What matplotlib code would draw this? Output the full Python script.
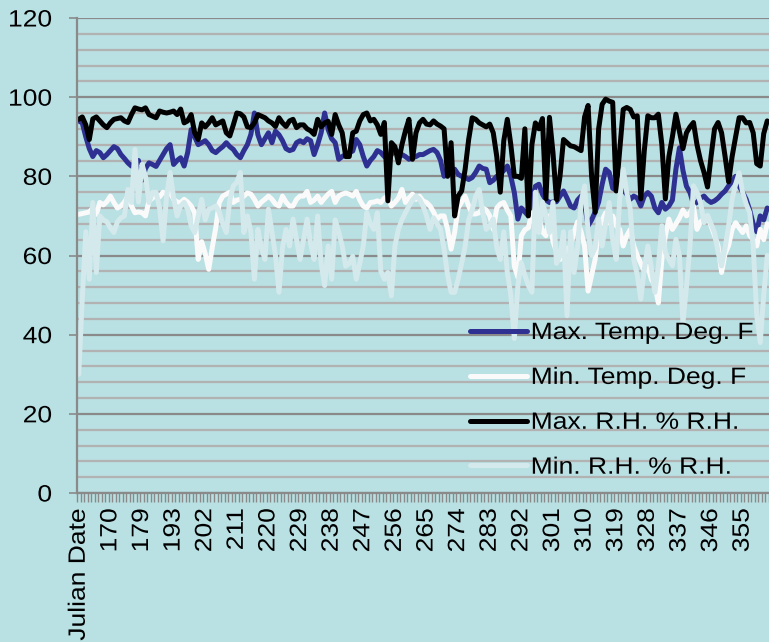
import numpy as np
import matplotlib
matplotlib.use("Agg")
import matplotlib.pyplot as plt
from matplotlib.ticker import MultipleLocator
from matplotlib.patheffects import AbstractPathEffect
from matplotlib.transforms import Affine2D

plt.rcParams['font.family'] = ['Liberation Sans', 'DejaVu Sans']

# x categories (first one is the header cell that ended up in the range)
julian_days = list(range(162, 180)) + [180, 181, 182, 183, 184, 185, 191, 192, 193] + list(range(194, 363))
categories = ['Julian Date'] + [str(d) for d in julian_days]

max_temp = [
    94, 93.5, 90, 87, 85, 86.5, 86, 84.7, 85.5, 86.5,
    87.5, 87, 85.5, 84.5, 83.4, 82.6, 83.5, 84, 79, 82,
    83.4, 83, 82.5, 84, 85.5, 87, 88, 83, 84, 84.7,
    82.6, 86, 91.8, 90, 88, 88.5, 89, 88, 86.5, 86,
    86.8, 87.5, 88.5, 87.5, 86.8, 85.5, 84.7, 86.5, 88, 90.6,
    96, 90.5, 88, 89.5, 91, 88.5, 91.4, 90.5, 89, 87,
    86.5, 86.8, 88.5, 89, 88.5, 89.5, 89, 85.5, 88, 91,
    96, 91.8, 89.5, 88.5, 84.3, 85, 85.5, 86, 86.4, 89.3,
    88, 85, 82.6, 84, 85, 86.5, 86, 85, 84.3, 85.5,
    86.8, 86, 85.5, 85, 84.3, 84.7, 85, 85.5, 85.5, 86,
    86.5, 86.8, 86, 84, 80, 81.8, 81.5, 81.8, 80.5, 80,
    79.7, 79.2, 79.7, 81, 82.6, 82, 81.8, 78.4, 79, 80,
    80.5, 81.5, 82.6, 80, 75.9, 69.2, 72, 71, 70, 74,
    77.5, 78, 75.5, 74, 73.4, 73.5, 73.6, 75, 76.3, 74.5,
    72.5, 72, 74, 75, 73, 67.5, 69, 71, 73.5, 78,
    81.8, 81, 77, 76.5, 78.4, 76.5, 75.5, 74.2, 75, 74.5,
    72.5, 75, 75.9, 75, 72, 70.8, 73.4, 71.7, 72.5, 74,
    81.8, 87.2, 81.5, 77.5, 75.9, 73, 73.4, 74.5, 75, 74,
    73.4, 73.8, 74.5, 75.5, 76.3, 77.6, 78.8, 80, 77.5, 76,
    74.2, 71.5, 68, 66, 70, 69, 72,
]

min_temp = [
    70.4, 70.6, 70.8, 71, 72, 70.4, 73.4, 72.8, 73.6, 75,
    73.4, 72, 72.5, 73.5, 75, 72.5, 70.8, 71, 70.8, 70,
    73.8, 74.5, 75.5, 74.8, 76, 75.5, 76, 74.2, 73.5, 73.4,
    74.2, 73.5, 72.5, 70.8, 59, 63.5, 60.5, 56.5, 62, 67,
    73.4, 75, 75.5, 76, 73.4, 74, 74.2, 75, 75.8, 75.5,
    74.2, 72.5, 73.5, 74.2, 75, 74.2, 73, 72.5, 75, 73.5,
    72.5, 72.5, 74.2, 75, 75, 76.2, 73.4, 74, 75, 73.4,
    74.5, 75.5, 76.2, 73.4, 75, 75.5, 75.8, 75.5, 75, 76.2,
    74, 72.5, 72, 73.4, 73.5, 73.8, 73.4, 74.5, 75, 72.5,
    73.4, 74.5, 76.7, 73.4, 74.5, 75.5, 74.2, 75, 73.8, 73.4,
    72.5, 71, 69.2, 70, 70, 66.6, 61.6, 65.8, 72, 73.5,
    75, 72.5, 70.5, 70.5, 70.8, 72, 71.5, 70, 66.6, 72,
    73, 73.4, 71.5, 70, 57.3, 54.5, 65, 66.5, 67, 70.8,
    67.8, 69.5, 66, 65, 70, 63.5, 61, 59, 59.8, 61.5,
    62.4, 65.8, 68.5, 66, 62.4, 51, 55, 59, 66.6, 69,
    70.8, 68.2, 70, 67.5, 66.6, 62.4, 65, 66.6, 62.4, 60,
    58, 56, 57.3, 54, 52.4, 48, 59, 65, 69.2, 66.6,
    68, 69.5, 71.5, 70, 70.8, 72.5, 66.6, 68.5, 69.2, 70,
    67.5, 65, 62.4, 55.7, 60.5, 62.5, 66.6, 68.3, 67, 65.8,
    67.5, 65, 64, 62.4, 66.6, 64, 68,
]

max_rh = [
    94.4, 95, 93, 89.3, 94.5, 95, 94, 93, 92.3, 93.5,
    94.4, 94.6, 94.8, 94, 93.6, 95.6, 97.3, 97, 96.8, 97.3,
    95.6, 95.2, 94.8, 96.5, 96.2, 96, 96.2, 96.5, 95.6, 97,
    93.5, 94, 95.6, 91, 89.3, 93.5, 92.5, 93.5, 94.8, 93,
    93.5, 94, 91, 90.2, 93, 96, 95.8, 95, 92.5, 92.3,
    93.5, 95.6, 95.2, 94.8, 94, 93.5, 92.6, 94.8, 93.5, 92.6,
    94, 94.4, 92.3, 93, 93, 92, 91.5, 90.6, 94.4, 92.5,
    93.5, 93.9, 90.6, 95.6, 93, 91, 85, 85, 91, 91.4,
    94, 95.6, 96, 94, 94.4, 93, 90.6, 93.6, 73.8, 88.5,
    87.5, 83.4, 88, 91.5, 94.4, 84.3, 91, 93.5, 94.4, 93.2,
    93, 94, 93.2, 92.7, 92, 80, 88.5, 70, 75, 76.3,
    81.8, 89.3, 94.8, 94.4, 93.5, 93, 92.5, 93.2, 91, 85,
    76, 89, 94.4, 88, 80, 80, 79.5, 92, 70, 88,
    93.5, 92, 94.6, 74.3, 94.9, 86, 74, 80, 89.3, 88.5,
    87.7, 87.5, 87, 86.5, 95, 97.9, 80, 70.9, 92, 98.2,
    99.5, 99, 98.7, 76.3, 86.5, 96.9, 97.4, 96.9, 95, 95.3,
    74.3, 86.5, 95.3, 94.8, 94.8, 95.7, 88, 74.3, 85, 90,
    95.7, 91.4, 87, 91, 92.5, 93.6, 88, 84, 81, 77.3,
    85, 92, 93.6, 91, 85, 78.6, 85, 90, 94.8, 94.8,
    93.5, 93.6, 91, 83.2, 82.6, 90.8, 94,
]

min_rh = [
    30, 49, 66, 54, 73.4, 55.7, 70, 69, 68.5, 67,
    65.8, 68.5, 69.5, 70, 76.7, 73.4, 86.8, 73.5, 83, 80,
    73.4, 76, 76, 72, 63.7, 75, 81, 74.5, 70, 72.5,
    73.4, 71.7, 67.5, 65.8, 70, 74.2, 69, 71.7, 72, 72.5,
    71, 68, 65.8, 74, 77.6, 78.5, 81, 65.8, 70, 66,
    54, 66.6, 62, 59, 71.7, 66, 60, 50.7, 62, 66.6,
    62.4, 69.2, 64, 59, 64, 69.2, 63, 59, 70, 58,
    52.4, 62.4, 54, 69, 66, 62.4, 57.3, 58, 59.8, 54,
    58, 62.4, 70.8, 68, 66.6, 70.8, 56, 54, 55.7, 49.8,
    62.4, 66.6, 69, 70.8, 72.5, 74, 75, 74.2, 72.5, 70,
    66.6, 69.5, 68, 66.6, 61.6, 55, 50.7, 50.7, 54, 58,
    62.4, 69, 71.5, 75, 76.7, 70.8, 66.6, 67.5, 69.2, 62,
    59, 66, 55.7, 50, 39, 52.4, 58.2, 55, 52.4, 50.7,
    76, 65.8, 73.5, 70, 65.8, 73.4, 58, 60, 66, 44.8,
    66, 55.7, 62, 73.4, 77.6, 66, 60, 62, 69.2, 62.4,
    68, 73.4, 64, 59, 74.2, 81.8, 76, 71.7, 59, 55,
    49, 56.5, 62.4, 57, 50.7, 57.4, 67.5, 60.8, 59, 57.4,
    64.1, 60, 43, 52, 62.4, 77.6, 76, 73.4, 68.3, 70,
    68, 65.8, 60.8, 57.4, 62, 67.5, 74.2, 78, 80.9, 75.9,
    73, 70.8, 62.4, 45, 38, 50, 60,
]

series = ['Max. Temp. Deg. F', 'Min. Temp. Deg. F', 'Max. R.H. % R.H.', 'Min. R.H. % R.H.']
colors = ['#2e3192', '#fafafa', '#000000', '#d3e9ec']


class Stretch(AbstractPathEffect):
    # widen glyphs along the text direction, keeping one end fixed
    def __init__(self, sx, anchor='left'):
        super().__init__()
        self.sx = sx
        self.anchor = anchor

    def draw_path(self, renderer, gc, tpath, affine, rgbFace=None):
        ext = tpath.get_extents()
        x0 = {'left': 0.0, 'right': ext.x1, 'center': 0.5 * (ext.x0 + ext.x1)}[self.anchor]
        t = Affine2D().translate(-x0, 0).scale(self.sx, 1).translate(x0, 0)
        renderer.draw_path(gc, tpath, t + affine, rgbFace)


bg = '#b9e0e3'
fs = 17
sx = 1.12
fig = plt.figure(figsize=(7.69, 6.42), dpi=100)
fig.patch.set_facecolor(bg)
ax = fig.add_axes([77 / 769, 1 - 493 / 642, 1 - 77 / 769, (493 - 18) / 642])
ax.set_facecolor(bg)

x = np.arange(len(categories))
for vals, name, c in zip([max_temp, min_temp, max_rh, min_rh], series, colors):
    ax.plot(x, vals, color=c, lw=3.6, label=name, solid_joinstyle='round', solid_capstyle='round')

ax.set_ylim(0, 120)
ax.set_xlim(-0.5, 195.0)

# y axis: labelled every 20, light gridlines every 4
ax.yaxis.set_major_locator(MultipleLocator(20))
ax.yaxis.set_minor_locator(MultipleLocator(4))
ax.set_axisbelow(True)
ax.grid(which='minor', axis='y', color='#b2b2b2', lw=1.6)
ax.grid(which='major', axis='y', color='#8a8a8a', lw=1.6)
ax.tick_params(axis='y', which='major', length=6, width=1.2, color='#8a8a8a', pad=12, labelsize=fs)
ax.tick_params(axis='y', which='minor', length=0)

# x axis: every category gets a tick, every 9th a label
ax.set_xticks(x[::9], categories[::9], rotation=90)
ax.set_xticks(np.arange(-0.5, len(categories), 1), minor=True)
ax.tick_params(axis='x', which='major', length=0, pad=11, labelsize=fs)
ax.tick_params(axis='x', which='minor', length=6.5, width=1.0, color='#8a8a8a')

for s in ['top', 'right']:
    ax.spines[s].set_visible(False)
for s in ['left', 'bottom']:
    ax.spines[s].set_color('#8a8a8a')
    ax.spines[s].set_linewidth(1.6)

for lbl in ax.get_yticklabels() + ax.get_xticklabels():
    lbl.set_path_effects([Stretch(sx, 'right')])

leg = ax.legend(loc='upper left', bbox_to_anchor=(470 / 769, 1 - 322 / 642), bbox_transform=fig.transFigure,
                frameon=False, fontsize=fs, handlelength=2.4, handletextpad=0.17, labelspacing=0.97,
                borderpad=0, borderaxespad=0)
for t in leg.get_texts():
    t.set_path_effects([Stretch(sx, 'left')])

fig.savefig('out.png', dpi=100, facecolor=bg)
